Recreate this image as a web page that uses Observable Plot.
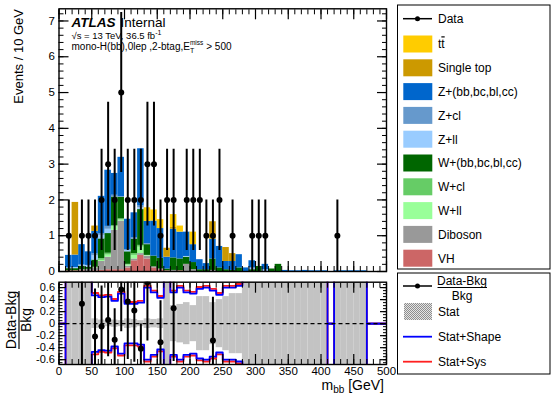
<!DOCTYPE html>
<html><head><meta charset="utf-8">
<script src="https://cdn.jsdelivr.net/npm/d3@7"></script>
<script src="https://cdn.jsdelivr.net/npm/@observablehq/plot@0.6"></script>
<style>
body{margin:0;background:#fff;}
#root{position:relative;width:551px;height:394px;overflow:hidden;background:#fff;}
#root svg{position:absolute;left:0;overflow:visible;}
</style></head><body>
<svg width="0" height="0" style="position:absolute">
  <defs>
    <pattern id="statpat" width="2" height="2" patternUnits="userSpaceOnUse">
      <rect width="2" height="2" fill="#e4e4e4"></rect>
      <rect width="1" height="1" fill="#8e8e8e"></rect>
      <rect x="1" y="1" width="1" height="1" fill="#8e8e8e"></rect>
    </pattern>
  </defs>
</svg>
<div id="root"></div>
<script>
const FONT = '"Liberation Sans", Arial, Helvetica, sans-serif';
// ---------- data (10 GeV bins, 0..500 GeV) ----------
const binLow = d3.range(0, 500, 10);
const dataCounts = [0,1,0,1,1,1,2,3,2,5, 2,2,2,3,3,1,2,2,0,2, 2,2,1,1,2,0,1,0,0,1, 1,1,0,0,0,0,0,0,0,0, 0,0,1,0,0,0,0,0,0,0];
const VH    = [0,.02,.02,.02,0,.02,.03,.05,.05,.05, .10,.30,.45,.35,.10,.05,.02,0,.02,0, 0,0,0,0,0,0,0,0,0,0, 0,0,0,0,0,0,0,0,0,0, 0,0,0,0,0,0,0,0,0,0];
const Dib   = [0,0,0,.03,.06,.08,.25,.35,1.10,1.36, .05,.05,.05,.08,.03,.02,0,.03,0,.20, .05,0,0,.03,0,0,0,0,0,0, 0,0,0,0,0,0,0,0,0,0, 0,0,0,0,0,0,0,0,0,0];
const Wll   = [0,0,0,0,0,0,.03,.06,.10,.03, .03,.10,.18,.02,0,0,0,0,0,0, 0,0,0,0,0,0,0,0,0,0, 0,0,0,0,0,0,0,0,0,0, 0,0,0,0,0,0,0,0,0,0];
const Wcl   = [0,0,0,0,0,.02,.05,.05,.03,.03, .02,.05,.05,0,0,0,0,0,0,0, 0,0,0,0,0,0,0,0,0,0, 0,0,0,0,0,0,0,0,0,0, 0,0,0,0,0,0,0,0,0,0];
const Whf   = [0,.06,.06,.10,.06,.20,.55,.55,.80,.60, .35,.40,1.00,.30,.30,.30,.05,.35,.33,.20, .20,.05,.05,.32,.10,.05,.03,.10,0,.05, .14,0,.07,.20,0,0,0,0,0,0, 0,0,0,0,0,0,0,0,0,0];
const Zll   = [0,.02,.03,.03,.05,.12,.10,.12,0,0, .03,0,.05,0,0,0,0,0,0,.02, 0,0,0,0,0,0,0,0,0,.05, 0,.05,0,0,0,0,0,0,0,0, 0,0,0,0,0,0,0,0,0,0];
const Zcl   = [0,0,0,0,0,.05,.05,.08,.05,.02, .03,.04,.05,.03,0,0,0,0,0,0, 0,0,0,0,0,0,0,0,0,0, 0,0,0,0,0,0,0,0,0,0, 0,0,0,0,0,0,0,0,0,0];
const Zhf   = [0,.35,.35,.57,.38,.63,1.04,1.57,.61,1.10, .85,.70,1.60,.62,.98,.83,.33,.80,.75,.68, .50,.28,.17,.55,.60,.23,.25,.37,.10,.20, 0,.15,0,0,.03,.02,.02,.03,.02,.02, .02,0,.02,.02,.02,.02,.02,0,0,0];
const stopT = [0,0,1.47,0,0,.15,0,0,0,0, 0,0,0,0,0,0,.25,.05,0,0, 0,0,0,.49,0,.39,.22,0,0,0, 0,0,0,0,0,0,0,0,0,0, 0,0,0,0,0,0,0,0,0,0];
const ttbar = [0,0,0,0,0,0,0,0,0,0, 0,0,0,.38,.31,.25,0,.36,.17,0, .35,0,0,0,0,0,0,0,0,0, 0,0,0,0,0,0,0,0,0,0, 0,0,0,0,0,0,0,0,0,0];
// relative uncertainty bands in the ratio panel
const statErr  = [0,1.5,1.5,1.5,1.5,.08,.06,.05,.06,.05, .08,.07,.05,.08,.07,.08,1.5,.30,.32,.35, .30,.45,.45,.35,.40,.45,.50,.50,1.5,1.5, 1.5,1.5,1.5,1.5,1.5,1.5,1.5,1.5,1.5,1.5, 1.5,0,1.5,1.5,1.5,1.5,1.5,0,0,0];
const shapeErr = [0,1.5,1.5,1.5,1.5,.47,.44,.45,.38,.50, .33,.33,.35,.60,.52,.43,1.5,.52,.60,.52, .50,.58,.60,.55,.48,.60,.60,.63,1.5,1.5, 1.5,1.5,1.5,1.5,1.5,1.5,1.5,1.5,1.5,1.5, 1.5,0,1.5,1.5,1.5,1.5,1.5,0,0,0];
const sysErr   = [0,1.5,1.5,1.5,1.5,.51,.47,.48,.41,.53, .36,.36,.38,.63,.55,.46,1.5,.55,.63,.55, .53,.61,.63,.58,.51,.63,.63,.66,1.5,1.5, 1.5,1.5,1.5,1.5,1.5,1.5,1.5,1.5,1.5,1.5, 1.5,0,1.5,1.5,1.5,1.5,1.5,0,0,0];
// stack order bottom -> top
const compNames  = ["VH","Diboson","W+ll","W+cl","W+(bb,bc,bl,cc)","Z+ll","Z+cl","Z+(bb,bc,bl,cc)","Single top","ttbar"];
const compColors = ["#cc6666","#999999","#99ff99","#66cc66","#006600","#99ccff","#6699cc","#0066cc","#cc9900","#ffcc00"];
const compVals   = [VH, Dib, Wll, Wcl, Whf, Zll, Zcl, Zhf, stopT, ttbar];
// tick values
const xMajor = d3.range(0, 501, 50), xMinor = d3.range(0, 501, 10);
const yMajor = d3.range(0, 8, 1), yMinor = d3.range(0, 7.4, 0.2);
const rMajor = [-0.6,-0.4,-0.2,0,0.2,0.4,0.6], rMinor = d3.range(-0.65, 0.66, 0.05);
const rLo = -0.68, rHi = 0.69;

// ---------- derived tables ----------
const stackRows = [];
const bkg = binLow.map(() => 0);
compVals.forEach((vals, c) => vals.forEach((v, i) => {
  if (v > 0) stackRows.push({x1: binLow[i], x2: binLow[i] + 10, y1: bkg[i], y2: bkg[i] + v, comp: compNames[c]});
  bkg[i] += v;
}));
const dataRows = binLow.map((lo, i) => ({x: lo + 5, n: dataCounts[i], b: bkg[i]})).filter(d => d.n > 0);
// points whose ratio lies outside the panel are not drawn (as in the original)
const ratioRows = dataRows.filter(d => d.b > 0)
  .map(d => ({x: d.x, r: (d.n - d.b) / d.b, e: Math.sqrt(d.n) / d.b}))
  .filter(d => d.r >= rLo && d.r <= rHi);
const bandRows = binLow.map((lo, i) => ({x1: lo, x2: lo + 10, s: statErr[i]})).filter(d => d.s > 0);
function stepPts(arr, sign, key) {
  const pts = binLow.map((lo, i) => ({x: lo, y: sign * arr[i], k: key}));
  pts.push({x: 500, y: sign * arr[arr.length - 1], k: key});
  return pts;
}
const bluePts = stepPts(shapeErr, 1, "u").concat(stepPts(shapeErr, -1, "d"));
const redPts  = stepPts(sysErr, 1, "u").concat(stepPts(sysErr, -1, "d"));

const blank = () => "";
function ticksFrame(xMaj, xMin, yMaj, yMin, L, l, Lx, lx, fmtY, fs) {
  return [
    Plot.axisY(yMaj, {anchor: "left", tickSize: -L, tickPadding: L + 4, tickFormat: fmtY, fontSize: fs, label: null, strokeWidth: 1.2}),
    Plot.axisY(yMin, {anchor: "left", tickSize: -l, tickFormat: blank, label: null}),
    Plot.axisY(yMaj, {anchor: "right", tickSize: -L, tickFormat: blank, label: null, strokeWidth: 1.2}),
    Plot.axisY(yMin, {anchor: "right", tickSize: -l, tickFormat: blank, label: null}),
    Plot.axisX(xMaj, {anchor: "top", tickSize: -Lx, tickFormat: blank, label: null, strokeWidth: 1.2}),
    Plot.axisX(xMin, {anchor: "top", tickSize: -lx, tickFormat: blank, label: null}),
  ];
}

// ---------- main panel ----------
const main = Plot.plot({
  width: 551, height: 282,
  marginLeft: 58.5, marginRight: 165, marginTop: 8.3, marginBottom: 11,
  style: {fontFamily: FONT, background: "transparent", color: "#000", overflow: "visible"},
  x: {domain: [0, 500], label: null},
  y: {domain: [0, 7.34], label: null},
  color: {domain: compNames, range: compColors},
  marks: [
    Plot.rect(stackRows, {x1: "x1", x2: "x2", y1: "y1", y2: "y2", fill: "comp", clip: true}),
    Plot.ruleX(dataRows, {x: "x", y1: d => d.n - Math.sqrt(d.n), y2: d => d.n + Math.sqrt(d.n), stroke: "#000", strokeWidth: 2, clip: true}),
    Plot.dot(dataRows, {x: "x", y: "n", r: 3, fill: "#000", clip: true}),
    ...ticksFrame(xMajor, xMinor, yMajor, yMinor, 10, 5, 10, 5, d3.format("d"), 11.5),
    Plot.axisX(xMajor, {anchor: "bottom", tickSize: -10, tickFormat: blank, label: null, strokeWidth: 1.2}),
    Plot.axisX(xMinor, {anchor: "bottom", tickSize: -5, tickFormat: blank, label: null}),
    Plot.frame({stroke: "#000", strokeWidth: 1.4})
  ]
});
main.style.top = "0px";
document.getElementById("root").appendChild(main);

// ---------- ratio panel ----------
const ratio = Plot.plot({
  width: 551, height: 118,
  marginLeft: 58.5, marginRight: 165, marginTop: 5.7, marginBottom: 30,
  style: {fontFamily: FONT, background: "transparent", color: "#000", overflow: "visible"},
  x: {domain: [0, 500], label: null},
  y: {domain: [rLo, rHi], label: null},
  marks: [
    Plot.rect(bandRows, {x1: "x1", x2: "x2", y1: d => Math.max(-d.s, rLo), y2: d => Math.min(d.s, rHi), fill: "#c3c3c3"}),
    Plot.line(redPts, {x: "x", y: "y", z: "k", curve: "step-after", stroke: "#ff2020", strokeWidth: 1.8, clip: true}),
    Plot.line(bluePts, {x: "x", y: "y", z: "k", curve: "step-after", stroke: "#0000ff", strokeWidth: 1.8, clip: true}),
    Plot.ruleY([0], {stroke: "#000", strokeWidth: 1.3, strokeDasharray: "4,3"}),
    Plot.ruleX(ratioRows, {x: "x", y1: d => d.r - d.e, y2: d => d.r + d.e, stroke: "#000", strokeWidth: 2, clip: true}),
    Plot.dot(ratioRows, {x: "x", y: "r", r: 3, fill: "#000", clip: true}),
    ...ticksFrame(xMajor, xMinor, rMajor, rMinor, 7, 4, 10, 5, d => d === 0 ? "0" : d3.format(".1f")(d).replace("\u2212", "-"), 11),
    Plot.axisX(xMajor, {anchor: "bottom", tickSize: -10, tickPadding: 12, tickFormat: d3.format("d"), fontSize: 11.5, label: null, strokeWidth: 1.2}),
    Plot.axisX(xMinor, {anchor: "bottom", tickSize: -5, tickFormat: blank, label: null}),
    Plot.frame({stroke: "#000", strokeWidth: 1.4})
  ]
});
ratio.style.top = "276px";
document.getElementById("root").appendChild(ratio);

// ---------- text overlay & legends ----------
const ov = d3.select("#root").append("svg").attr("width", 551).attr("height", 394)
  .style("top", "0px").style("font-family", FONT).style("pointer-events", "none");

// ATLAS label
const t1 = ov.append("text").attr("x", 71.5).attr("y", 27).attr("font-size", 13.5);
t1.append("tspan").attr("font-weight", "bold").attr("font-style", "italic").text("ATLAS");
t1.append("tspan").attr("dx", 5).text("Internal");
const t2 = ov.append("text").attr("x", 71.5).attr("y", 38.5).attr("font-size", 9.5);
t2.append("tspan").text("\u221As = 13 TeV, 36.5 fb");
t2.append("tspan").attr("dy", -4).attr("font-size", 7).text("-1");
const t3 = ov.append("text").attr("x", 71.5).attr("y", 50).attr("font-size", 10);
t3.append("tspan").text("mono-H(bb),0lep ,2-btag,E");
t3.append("tspan").attr("dy", 3).attr("font-size", 7).text("T");
t3.append("tspan").attr("dx", -4.3).attr("dy", -8).attr("font-size", 6.5).text("miss");
t3.append("tspan").attr("dy", 5).attr("dx", 3).text("> 500");

// axis titles
ov.append("text").attr("transform", "translate(23,9) rotate(-90)").attr("text-anchor", "end")
  .attr("font-size", 13).text("Events / 10 GeV");
const xt = ov.append("text").attr("x", 384).attr("y", 389.5).attr("text-anchor", "end").attr("font-size", 14);
xt.append("tspan").text("m");
xt.append("tspan").attr("dy", 3.5).attr("font-size", 10).text("bb");
xt.append("tspan").attr("dy", -3.5).text(" [GeV]");
const ry = ov.append("g").attr("transform", "translate(19,320) rotate(-90)").attr("font-size", 14).attr("text-anchor", "middle");
ry.append("text").attr("y", -3).text("Data-Bkg");
ry.append("line").attr("x1", -29).attr("x2", 29).attr("y1", 0).attr("y2", 0).attr("stroke", "#000").attr("stroke-width", 1.2);
ry.append("text").attr("y", 12).text("Bkg");

// legend 1
ov.append("rect").attr("x", 397.5).attr("y", 5).attr("width", 152.5).attr("height", 264).attr("fill", "none").attr("stroke", "#000").attr("stroke-width", 1);
ov.append("line").attr("x1", 403).attr("x2", 432).attr("y1", 18.7).attr("y2", 18.7).attr("stroke", "#000").attr("stroke-width", 1.5);
ov.append("circle").attr("cx", 417.5).attr("cy", 18.7).attr("r", 2.5).attr("fill", "#000");
ov.append("text").attr("x", 438).attr("y", 23).attr("font-size", 12).text("Data");
const legOrder = [9, 8, 7, 6, 5, 4, 3, 2, 1, 0];
legOrder.forEach((c, j) => {
  const cy = 44 + 23.8 * j;
  ov.append("rect").attr("x", 403.3).attr("y", cy - 8.5).attr("width", 29).attr("height", 17).attr("fill", compColors[c]);
  const tx = ov.append("text").attr("x", 438).attr("y", cy + 4.3).attr("font-size", 12);
  if (compNames[c] === "ttbar") {
    tx.append("tspan").text("t");
    tx.append("tspan").style("text-decoration", "overline").text("t");
  } else tx.text(compNames[c]);
});

// legend 2
ov.append("rect").attr("x", 397.5).attr("y", 273).attr("width", 152.5).attr("height", 101).attr("fill", "none").attr("stroke", "#000").attr("stroke-width", 1);
ov.append("line").attr("x1", 403).attr("x2", 432).attr("y1", 286).attr("y2", 286).attr("stroke", "#000").attr("stroke-width", 1.5);
ov.append("circle").attr("cx", 417.5).attr("cy", 286).attr("r", 2.5).attr("fill", "#000");
ov.append("text").attr("x", 462).attr("y", 284.5).attr("text-anchor", "middle").attr("font-size", 12).text("Data-Bkg");
ov.append("line").attr("x1", 437.5).attr("x2", 487).attr("y1", 287.5).attr("y2", 287.5).attr("stroke", "#000").attr("stroke-width", 1);
ov.append("text").attr("x", 462).attr("y", 299.5).attr("text-anchor", "middle").attr("font-size", 12).text("Bkg");
ov.append("rect").attr("x", 404).attr("y", 303).attr("width", 28).attr("height", 17).attr("fill", "url(#statpat)");
ov.append("text").attr("x", 438).attr("y", 315.5).attr("font-size", 12).text("Stat");
ov.append("line").attr("x1", 403).attr("x2", 432).attr("y1", 336.7).attr("y2", 336.7).attr("stroke", "#0000ff").attr("stroke-width", 1.8);
ov.append("text").attr("x", 438).attr("y", 341).attr("font-size", 12).text("Stat+Shape");
ov.append("line").attr("x1", 403).attr("x2", 432).attr("y1", 361.7).attr("y2", 361.7).attr("stroke", "#ff2020").attr("stroke-width", 1.8);
ov.append("text").attr("x", 438).attr("y", 366).attr("font-size", 12).text("Stat+Sys");
</script></body></html>
